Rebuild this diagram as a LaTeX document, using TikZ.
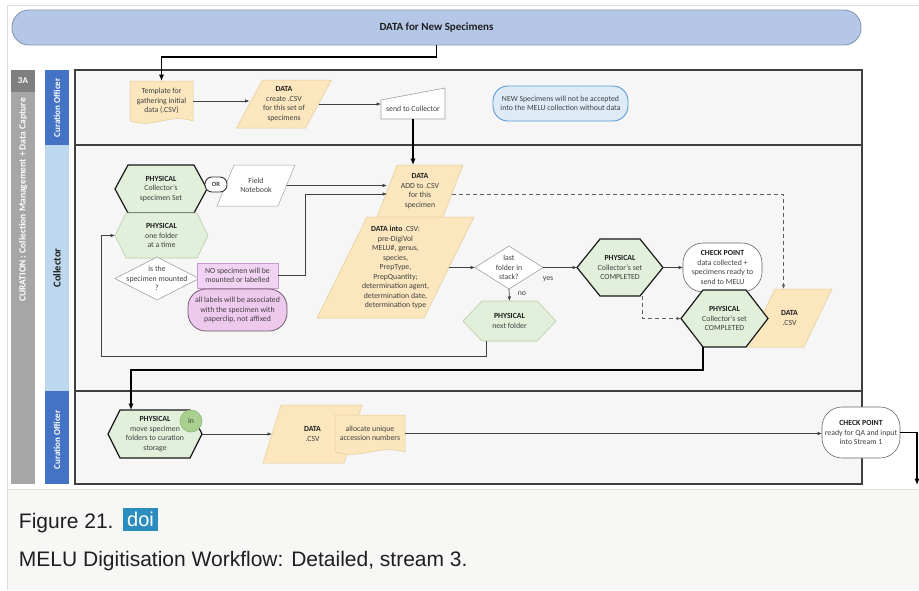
\documentclass[tikz,border=0pt]{standalone}
\usepackage{fontspec}
\setmainfont{Carlito}
\newfontfamily\capfont{Liberation Sans}
\usetikzlibrary{shapes.geometric,arrows.meta,calc}

\definecolor{bannerfill}{HTML}{B4C7E7}
\definecolor{banneredge}{HTML}{8497B0}
\definecolor{datafill}{HTML}{FCE6BD}
\definecolor{dataedge}{HTML}{E3CC97}
\definecolor{physfill}{HTML}{E2EFDA}
\definecolor{physedge}{HTML}{B9CCAB}
\definecolor{notefill}{HTML}{DEEBF7}
\definecolor{noteedge}{HTML}{5B9BD5}
\definecolor{pinkfill}{HTML}{F1D3F3}
\definecolor{pinkedge}{HTML}{C79BCD}
\definecolor{lblfill}{HTML}{EEC9EE}
\definecolor{lbledge}{HTML}{6E5C6E}
\definecolor{incfill}{HTML}{A9D08E}
\definecolor{incedge}{HTML}{8DB872}
\definecolor{darkblue}{HTML}{4472C4}
\definecolor{lightblue}{HTML}{BDD7EE}
\definecolor{stripgray}{HTML}{A6A6A6}
\definecolor{tagfill}{HTML}{7F7F7F}
\definecolor{lanebg}{HTML}{F6F6F6}
\definecolor{laneedge}{HTML}{404040}
\definecolor{txtc}{HTML}{404040}
\definecolor{titlec}{HTML}{1E1E1E}
\definecolor{linec}{HTML}{404040}
\definecolor{capbg}{HTML}{F7F7F6}
\definecolor{framec}{HTML}{DDDDDA}
\definecolor{doifill}{HTML}{2B8CBE}
\definecolor{capc}{HTML}{1F1F1F}
\definecolor{plainedge}{HTML}{A0A0A0}

\pgfdeclarelayer{back}
\pgfdeclarelayer{mid}
\pgfsetlayers{back,mid,main}

% Custom flowchart shapes that keep the rectangle anchors:
% a hexagon with pointed ends, a document box with a wavy bottom
% and a parallelogram with a given horizontal slant.
\makeatletter
\newdimen\hexXl \newdimen\hexXr \newdimen\hexYt \newdimen\hexYb \newdimen\hexYm \newdimen\hexD
\pgfkeys{/pgf/hex inset/.initial=12pt}
\pgfkeys{/pgf/slant offset/.initial=15pt}
\pgfdeclareshape{hexbox}{%
  \inheritsavedanchors[from=rectangle]%
  \inheritanchorborder[from=rectangle]%
  \inheritanchor[from=rectangle]{center}%
  \inheritanchor[from=rectangle]{north}%
  \inheritanchor[from=rectangle]{south}%
  \inheritanchor[from=rectangle]{east}%
  \inheritanchor[from=rectangle]{west}%
  \inheritanchor[from=rectangle]{north east}%
  \inheritanchor[from=rectangle]{north west}%
  \inheritanchor[from=rectangle]{south east}%
  \inheritanchor[from=rectangle]{south west}%
  \inheritanchor[from=rectangle]{mid}%
  \inheritanchor[from=rectangle]{base}%
  \backgroundpath{%
    \southwest \hexXl=\pgf@x \hexYb=\pgf@y
    \northeast \hexXr=\pgf@x \hexYt=\pgf@y
    \pgfmathsetlength\hexD{\pgfkeysvalueof{/pgf/hex inset}}%
    \hexYm=\hexYt \advance\hexYm by \hexYb \hexYm=.5\hexYm
    \pgfpathmoveto{\pgfqpoint{\hexXl}{\hexYm}}%
    \pgfpathlineto{\pgfqpoint{\dimexpr\hexXl+\hexD\relax}{\hexYt}}%
    \pgfpathlineto{\pgfqpoint{\dimexpr\hexXr-\hexD\relax}{\hexYt}}%
    \pgfpathlineto{\pgfqpoint{\hexXr}{\hexYm}}%
    \pgfpathlineto{\pgfqpoint{\dimexpr\hexXr-\hexD\relax}{\hexYb}}%
    \pgfpathlineto{\pgfqpoint{\dimexpr\hexXl+\hexD\relax}{\hexYb}}%
    \pgfpathclose
  }%
}
\pgfdeclareshape{wavedoc}{%
  \inheritsavedanchors[from=rectangle]%
  \inheritanchorborder[from=rectangle]%
  \inheritanchor[from=rectangle]{center}%
  \inheritanchor[from=rectangle]{north}%
  \inheritanchor[from=rectangle]{south}%
  \inheritanchor[from=rectangle]{east}%
  \inheritanchor[from=rectangle]{west}%
  \inheritanchor[from=rectangle]{north east}%
  \inheritanchor[from=rectangle]{north west}%
  \inheritanchor[from=rectangle]{south east}%
  \inheritanchor[from=rectangle]{south west}%
  \inheritanchor[from=rectangle]{mid}%
  \inheritanchor[from=rectangle]{base}%
  \backgroundpath{%
    \southwest \hexXl=\pgf@x \hexYb=\pgf@y
    \northeast \hexXr=\pgf@x \hexYt=\pgf@y
    \hexD=\hexXr \advance\hexD by -\hexXl \hexD=.4\hexD
    \pgfpathmoveto{\pgfqpoint{\hexXl}{\hexYt}}%
    \pgfpathlineto{\pgfqpoint{\hexXr}{\hexYt}}%
    \pgfpathlineto{\pgfqpoint{\hexXr}{\hexYb}}%
    \pgfpathcurveto{\pgfqpoint{\dimexpr\hexXr-\hexD\relax}{\dimexpr\hexYb+8pt\relax}}%
      {\pgfqpoint{\dimexpr\hexXl+\hexD\relax}{\dimexpr\hexYb-8pt\relax}}%
      {\pgfqpoint{\hexXl}{\hexYb}}%
    \pgfpathclose
  }%
}
\pgfdeclareshape{slantbox}{%
  \inheritsavedanchors[from=rectangle]%
  \inheritanchorborder[from=rectangle]%
  \inheritanchor[from=rectangle]{center}%
  \inheritanchor[from=rectangle]{north}%
  \inheritanchor[from=rectangle]{south}%
  \inheritanchor[from=rectangle]{mid}%
  \inheritanchor[from=rectangle]{base}%
  \savedmacro\slantoff{%
    \pgfmathsetlength\pgf@xa{\pgfkeysvalueof{/pgf/slant offset}}%
    \edef\slantoff{\the\pgf@xa}}%
  \anchor{west}{%
    \southwest \pgf@xa=\pgf@x \pgf@ya=\pgf@y
    \northeast \pgf@y=.5\pgf@y \advance\pgf@y by .5\pgf@ya
    \pgf@x=\pgf@xa \advance\pgf@x by .5\dimexpr\slantoff\relax}%
  \anchor{east}{%
    \northeast \pgf@xa=\pgf@x \pgf@ya=\pgf@y
    \southwest \pgf@y=.5\pgf@y \advance\pgf@y by .5\pgf@ya
    \pgf@x=\pgf@xa \advance\pgf@x by -.5\dimexpr\slantoff\relax}%
  \backgroundpath{%
    \southwest \hexXl=\pgf@x \hexYb=\pgf@y
    \northeast \hexXr=\pgf@x \hexYt=\pgf@y
    \hexD=\slantoff\relax
    \pgfpathmoveto{\pgfqpoint{\hexXl}{\hexYb}}%
    \pgfpathlineto{\pgfqpoint{\dimexpr\hexXr-\hexD\relax}{\hexYb}}%
    \pgfpathlineto{\pgfqpoint{\hexXr}{\hexYt}}%
    \pgfpathlineto{\pgfqpoint{\dimexpr\hexXl+\hexD\relax}{\hexYt}}%
    \pgfpathclose
  }%
}
\makeatother

\newcommand{\nodetitle}[1]{{\bfseries\color{titlec}#1}}

\tikzset{
  every node/.style={inner sep=0pt, outer sep=0pt},
  txt/.style={font=\fontsize{7.8}{9.5}\selectfont, text=txtc, align=center},
  physdark/.style={hexbox, txt, fill=physfill, draw=black!90, line width=1.2pt},
  physlight/.style={hexbox, txt, fill=physfill, draw=physedge, line width=0.6pt},
  datashape/.style={slantbox, txt, fill=datafill, draw=dataedge, line width=0.5pt},
  docshape/.style={wavedoc, txt, fill=datafill, draw=dataedge, line width=0.5pt},
  decision/.style={diamond, fill=white, draw=plainedge, line width=0.6pt},
  checkpt/.style={rectangle, rounded corners=20pt, txt, fill=white, draw=linec!80, line width=0.6pt},
  arr/.style={draw=linec, line width=0.7pt, -{Latex[length=4.5pt,width=3.6pt]}},
  thickarr/.style={draw=black, line width=1.8pt, -{Latex[length=6.5pt,width=5.5pt]}},
  dasharr/.style={draw=linec!85, line width=0.8pt, dash pattern=on 4pt off 3pt, -{Latex[length=4.5pt,width=3.6pt]}},
  sidelbl/.style={rotate=90, font=\bfseries\fontsize{9}{10}\selectfont, text=white},
}

\begin{document}
\begin{tikzpicture}[x=1pt,y=-1pt]
\useasboundingbox (0,0) rectangle (919,590);

% ---------- page, swimlanes and side strips ----------
\begin{pgfonlayer}{back}
  \fill[white] (0,0) rectangle (919,590);
  \fill[capbg] (8,489) rectangle (919,590);
  \draw[framec, line width=1pt] (7.5,590) -- (7.5,5.5) -- (919,5.5);
  \draw[framec, line width=1pt] (8,489) -- (919,489);

  \fill[tagfill] (11,70) rectangle (35,92);
  \fill[stripgray] (11,92) rectangle (35,484);
  \fill[darkblue] (45,70) rectangle (69,145);
  \fill[lightblue] (45,145) rectangle (69,391);
  \fill[darkblue] (45,391) rectangle (69,484);

  \filldraw[fill=lanebg, draw=laneedge, line width=1.2pt] (75,70) rectangle (862,484);
  \draw[laneedge, line width=1.2pt] (75,145) -- (862,145);
  \draw[laneedge, line width=1.2pt] (75,391) -- (862,391);
\end{pgfonlayer}

\node[font=\bfseries\fontsize{9}{10}\selectfont, text=white] (tag3a) at (23,81) {3A};
\node[sidelbl, font=\bfseries\fontsize{9.5}{11}\selectfont] (curlbl) at (23,200) {CURATION : Collection Management + Data Capture};
\node[sidelbl] (co1lbl) at (57,108) {Curation Officer};
\node[sidelbl, text=titlec, font=\bfseries\fontsize{10.5}{12}\selectfont] (collbl) at (57,268) {Collector};
\node[sidelbl] (co2lbl) at (57,440) {Curation Officer};

% ---------- banner ----------
\node[rectangle, rounded corners=17pt, fill=bannerfill, draw=banneredge, line width=0.9pt,
      minimum width=849pt, minimum height=35pt, font=\bfseries\fontsize{11}{13}\selectfont, text=titlec]
      (banner) at (436.5,27.5) {DATA for New Specimens};

% ---------- Curation Officer lane (top) ----------
\node[docshape, minimum width=63pt, minimum height=40pt] (tmpl) at (161.5,101) {Template for\\gathering initial\\data (.CSV)};
\node[datashape, slant offset=26pt, minimum width=95pt, minimum height=48pt]
      (dcreate) at (284,104) {\nodetitle{DATA}\\create .CSV\\for this set of\\specimens};
\node[minimum width=64pt, minimum height=31pt, label={[txt,yshift=-5pt]center:send to Collector}] (send) at (413,103.5) {};
\begin{pgfonlayer}{mid}
  \draw[fill=white, draw=plainedge, line width=0.6pt]
    (send.south west) -- ($(send.north west)+(0,12)$) -- (send.north east) -- (send.south east) -- cycle;
\end{pgfonlayer}
\node[txt, rectangle, rounded corners=15pt, fill=notefill, draw=noteedge, line width=0.9pt,
      minimum width=135pt, minimum height=35pt] (note) at (560.5,103.5)
      {NEW Specimens will not be accepted\\into the MELU collection without data};

% ---------- Collector lane ----------
\node[physdark, hex inset=13pt, minimum width=92pt, minimum height=48pt] (hexA) at (161,189)
      {\nodetitle{PHYSICAL}\\Collector's\\specimen Set};
\node[datashape, fill=white, draw=plainedge, slant offset=17pt,
      minimum width=78pt, minimum height=41pt] (fieldnb) at (256,185.5) {Field\\Notebook};
\node[txt, rectangle, rounded corners=7pt, fill=white, draw=black!80, line width=0.9pt,
      minimum width=22pt, minimum height=15pt, font=\bfseries\fontsize{6.5}{7}\selectfont] (orbox) at (216,184.5) {OR};
\node[physlight, hex inset=11pt, minimum width=93pt, minimum height=45pt] (hexB) at (161.5,235.5)
      {\nodetitle{PHYSICAL}\\one folder\\at a time};
\node[decision, minimum width=84pt, minimum height=43pt,
      label={[txt]center:is the\\specimen mounted\\?}] (isd) at (157,278.5) {};
\node[txt, rectangle, fill=pinkfill, draw=pinkedge, line width=0.6pt, minimum width=81pt, minimum height=25pt]
      (nobox) at (237.5,275.5) {NO specimen will be\\mounted or labelled};
\node[txt, rectangle, rounded corners=18pt, fill=lblfill, draw=lbledge, line width=0.8pt,
      minimum width=99pt, minimum height=42pt] (lblbox) at (237.5,310)
      {all labels will be associated\\with the specimen with\\paperclip, not affixed};

\node[datashape, slant offset=20pt, minimum width=86pt, minimum height=52pt]
      (dadd) at (420,191) {\nodetitle{DATA}\\ADD to .CSV\\for this\\specimen};
\node[datashape, slant offset=50pt, minimum width=157pt, minimum height=101pt]
      (dinto) at (395.5,267.5) {\nodetitle{DATA into} .CSV:\\pre-DigiVol\\MELU\#, genus,\\species,\\PrepType,\\PrepQuantity;\\determination agent,\\determination date,\\determination type};

\node[decision, minimum width=68pt, minimum height=43pt,
      label={[txt]center:last\\folder in\\stack?}] (lastd) at (509,267.5) {};
\node[txt] (yeslbl) at (548,279) {yes};
\node[txt] (nolbl) at (522,294) {no};
\node[physlight, hex inset=19pt, minimum width=93pt, minimum height=40pt] (nextf) at (509.5,321)
      {\nodetitle{PHYSICAL}\\next folder};
\node[physdark, hex inset=23pt, minimum width=86pt, minimum height=57pt] (hexC) at (620,267.5)
      {\nodetitle{PHYSICAL}\\Collector's set\\COMPLETED};
\node[checkpt, minimum width=79pt, minimum height=49pt] (cp1) at (722.5,267.5)
      {\nodetitle{CHECK POINT}\\data collected +\\specimens ready to\\send to MELU};
\node[datashape, slant offset=28pt, minimum width=85pt, minimum height=58pt]
      (dcsv) at (789.5,318) {\nodetitle{DATA}\\.CSV};
\node[physdark, hex inset=22pt, minimum width=87pt, minimum height=57pt] (hexD) at (724.5,318.5)
      {\nodetitle{PHYSICAL}\\Collector's set\\COMPLETED};

% ---------- Curation Officer lane (bottom) ----------
\node[physdark, hex inset=12pt, minimum width=94pt, minimum height=48pt] (hexE) at (155,434)
      {\nodetitle{PHYSICAL}\\move specimen\\folders to curation\\storage};
\node[circle, fill=incfill, draw=incedge, line width=0.6pt, minimum size=22pt, txt] (incirc) at (191,421) {in};
\node[datashape, slant offset=18pt, minimum width=99pt, minimum height=58pt]
      (dbot) at (312.5,434) {\nodetitle{DATA}\\.CSV};
\node[docshape, minimum width=70pt, minimum height=37pt] (alloc) at (370,433.5) {allocate unique\\accession numbers};
\node[checkpt, minimum width=78pt, minimum height=51pt] (cp2) at (861,432.5)
      {\nodetitle{CHECK POINT}\\ready for QA and input\\into Stream 1};

% ---------- connectors ----------
\coordinate (loopc) at (101,356);
\coordinate (dropc) at (131,370);
\coordinate (exitc) at (917,485);

\draw[thickarr] (banner.south) -- ++(0,12) -| (tmpl.north);
\draw[arr] (tmpl.east) -- (tmpl.east -| dcreate.west);
\draw[arr] (dcreate.east) -- (dcreate.east -| send.west);
\draw[thickarr] (send.south) -- (send.south |- dadd.north);

\draw[arr] (fieldnb.east) -- (fieldnb.east -| dadd.west);
\draw[arr] (nobox.east) -- ++(27,0) |- ($(dadd.west)+(0,3)$);
\draw[dasharr] ($(dadd.east)+(-1,3)$) -| ($(dcsv.north)+(-6,0)$);
\draw[arr] ($(nextf.south)+(-23,0)$) |- (loopc) |- (hexB.west);

\draw[arr] (dinto.east) -- (lastd.west);
\draw[arr] (lastd.east) -- (hexC.west);
\draw[arr] (lastd.south) -- (nextf.north);
\draw[arr] (hexC.east) -- (cp1.west);
\draw[dasharr] ($(hexC.south)+(22,0)$) |- (hexD.west);
\draw[thickarr] ($(hexD.south)+(-21.5,0)$) |- (dropc) -- (dropc |- hexE.north);

\draw[arr] (hexE.east) -- (dbot.west);
\draw[arr] (alloc.east) -- (alloc.east -| cp2.west);
\draw[thickarr] (cp2.east) -| (exitc);

% ---------- caption ----------
\node[anchor=base west, font=\capfont\fontsize{21}{24}\selectfont, text=capc] (figlbl) at (19,528) {Figure 21.};
\node[rectangle, fill=doifill, minimum width=35pt, minimum height=23pt, text=white,
      font=\capfont\fontsize{20}{24}\selectfont] (doi) at (140.5,519.5) {doi};
\node[anchor=base west, font=\capfont\fontsize{21}{24}\selectfont, text=capc] (captxt) at (19,566)
      {MELU Digitisation Workflow: Detailed, stream 3.};
\end{tikzpicture}
\end{document}
